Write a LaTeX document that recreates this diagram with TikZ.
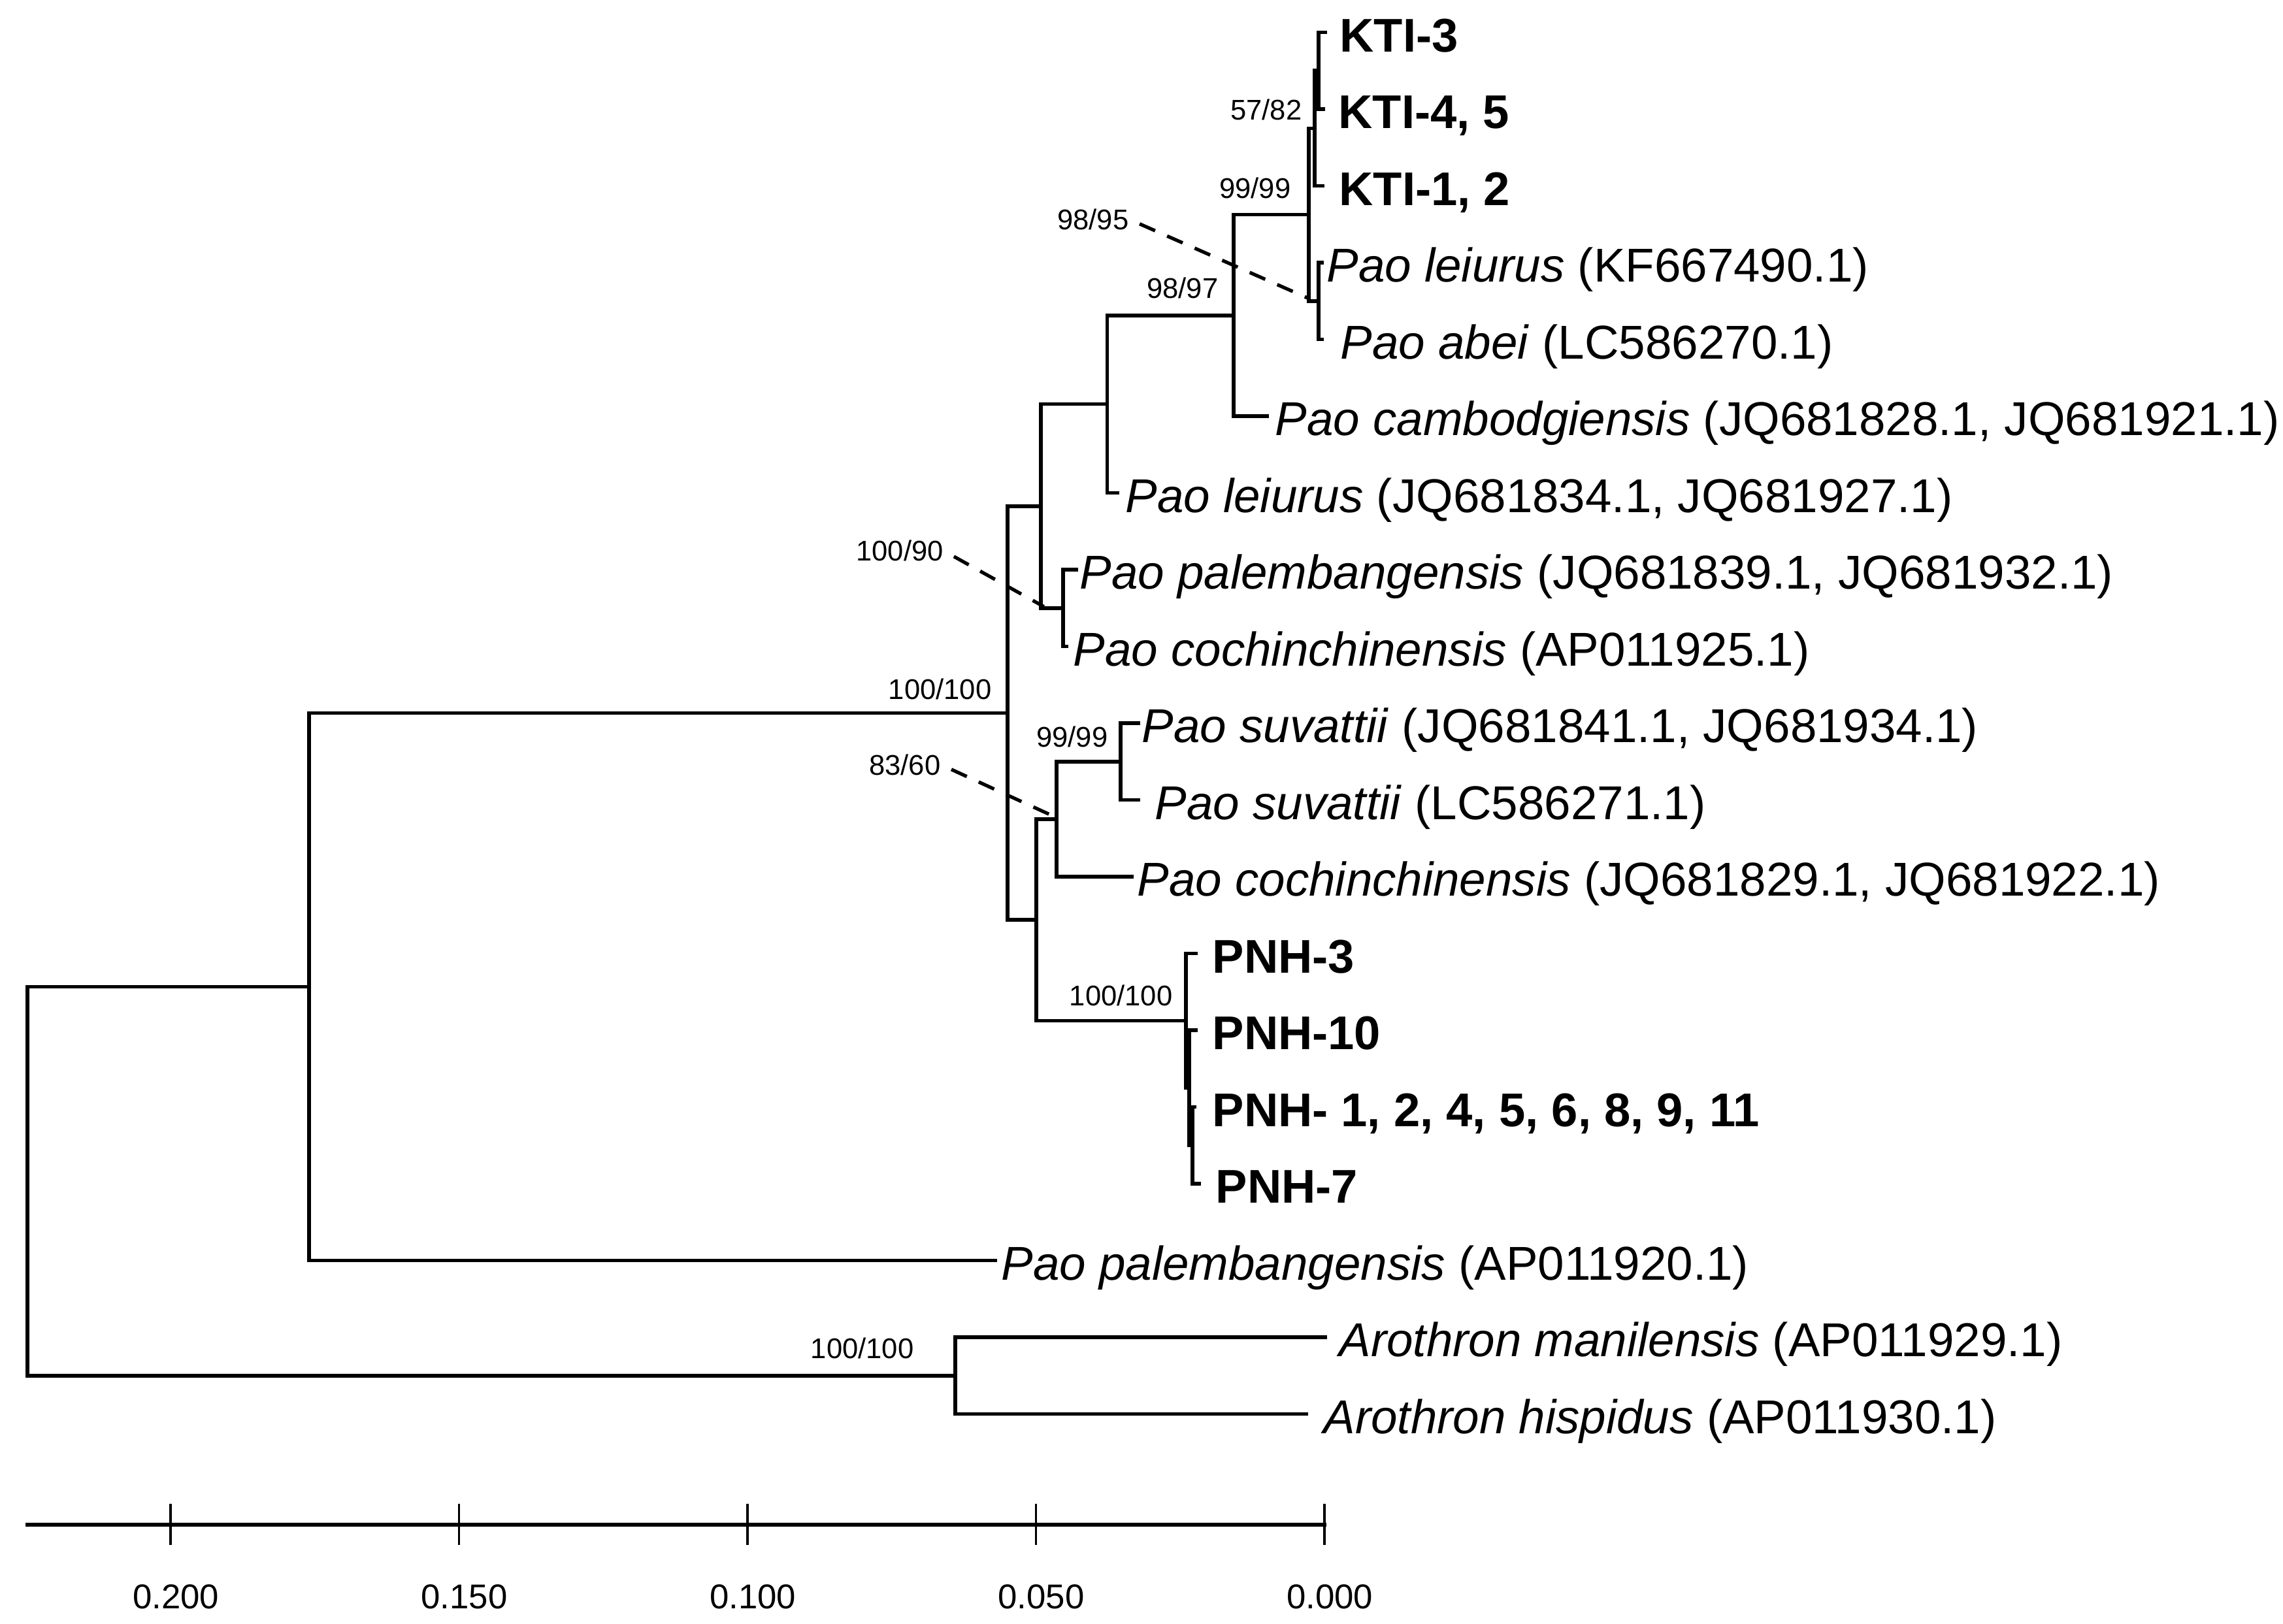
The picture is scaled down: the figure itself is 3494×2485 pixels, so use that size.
\documentclass[tikz,border=0pt]{standalone}
\usepackage{fontspec}
\setmainfont{Liberation Sans}
\usetikzlibrary{calc}
\tikzset{
  branch/.style={draw, line width=1.6pt, line cap=rect},
  tick/.style={draw, line width=1.1pt},
  bootline/.style={draw, line width=1.5pt, dash pattern=on 7.4pt off 5.7pt, shorten <=5pt},
  taxon/.style={anchor=base west, inner sep=0pt, yshift=-8.4pt, font=\fontsize{20.7}{24}\selectfont},
  strain/.style={taxon, font=\fontsize{20.6}{24}\selectfont\bfseries},
  boot/.style={anchor=east, inner sep=0pt, font=\fontsize{12.4}{14}\selectfont},
  scalelbl/.style={inner sep=0pt, font=\fontsize{15}{18}\selectfont}
}

\begin{document}
\begin{tikzpicture}[x=0.1mm, y=-0.1mm]
  \useasboundingbox (0,0) rectangle (3494,2485);

  % inner nodes
  \coordinate (root) at (42,1808.1);
  \coordinate (nA) at (473,1510.5);
  \coordinate (nAro) at (1462,2105.75);
  \coordinate (nB) at (1542,1091.4);
  \coordinate (nC) at (1593,774.7);
  \coordinate (nD) at (1586,1408.1);
  \coordinate (nE) at (1694.5,618.6);
  \coordinate (nF) at (1888,482.8);
  \coordinate (nK) at (2003,328.6);
  \coordinate (nKTI) at (2012,196.4);
  \coordinate (nKTIs) at (2018,108.25);
  \coordinate (nLA) at (2018,460.75);
  \coordinate (nPC) at (1627,930.75);
  \coordinate (nG) at (1617,1253.9);
  \coordinate (nH) at (1715,1165.75);
  \coordinate (nPNH) at (1815,1562.3);
  \coordinate (nS1) at (1820,1665.1);
  \coordinate (nS2) at (1825,1753.25);

  % tips
  \coordinate (t0) at (2028,49.5);
  \coordinate (t1) at (2025,167);
  \coordinate (t2) at (2024,284.5);
  \coordinate (t3) at (2023,402);
  \coordinate (t4) at (2023,519.5);
  \coordinate (t5) at (1939,637);
  \coordinate (t6) at (1710,754.5);
  \coordinate (t7) at (1647,872);
  \coordinate (t8) at (1632,989.5);
  \coordinate (t9) at (1742,1107);
  \coordinate (t10) at (1742,1224.5);
  \coordinate (t11) at (1732,1342);
  \coordinate (t12) at (1830,1459.5);
  \coordinate (t13) at (1830,1577);
  \coordinate (t14) at (1828,1694.5);
  \coordinate (t15) at (1835,1812);
  \coordinate (t16) at (1523,1929.5);
  \coordinate (t17) at (2028,2047);
  \coordinate (t18) at (1999,2164.5);

  \draw[branch] (nA) -| (root) |- (nAro);
  \draw[branch] (nB) -| (nA) |- (t16);
  \draw[branch] (t17) -| (nAro) |- (t18);
  \draw[branch] (nC) -| (nB) |- (nD);
  \draw[branch] (nE) -| (nC) |- (nPC);
  \draw[branch] (nF) -| (nE) |- (t6);
  \draw[branch] (nK) -| (nF) |- (t5);
  \draw[branch] (nKTI) -| (nK) |- (nLA);
  \draw[branch] (nKTIs) -| (nKTI) |- (t2);
  \draw[branch] (t0) -| (nKTIs) |- (t1);
  \draw[branch] (t3) -| (nLA) |- (t4);
  \draw[branch] (t7) -| (nPC) |- (t8);
  \draw[branch] (nG) -| (nD) |- (nPNH);
  \draw[branch] (nH) -| (nG) |- (t11);
  \draw[branch] (t9) -| (nH) |- (t10);
  \draw[branch] (t12) -| (nPNH) |- (nS1);
  \draw[branch] (t13) -| (nS1) |- (nS2);
  \draw[branch] (t14) -| (nS2) |- (t15);

  % taxa
  \node[strain] (l0) at (2050,49.5) {KTI-3};
  \node[strain] (l1) at (2048,167) {KTI-4, 5};
  \node[strain] (l2) at (2049,284.5) {KTI-1, 2};
  \node[taxon] (l3) at (2030,402) {\textit{Pao leiurus} (KF667490.1)};
  \node[taxon] (l4) at (2051,519.5) {\textit{Pao abei} (LC586270.1)};
  \node[taxon] (l5) at (1951,637) {\textit{Pao cambodgiensis} (JQ681828.1, JQ681921.1)};
  \node[taxon] (l6) at (1722,754.5) {\textit{Pao leiurus} (JQ681834.1, JQ681927.1)};
  \node[taxon] (l7) at (1652,872) {\textit{Pao palembangensis} (JQ681839.1, JQ681932.1)};
  \node[taxon] (l8) at (1642,989.5) {\textit{Pao cochinchinensis} (AP011925.1)};
  \node[taxon] (l9) at (1747,1107) {\textit{Pao suvattii} (JQ681841.1, JQ681934.1)};
  \node[taxon] (l10) at (1767,1224.5) {\textit{Pao suvattii} (LC586271.1)};
  \node[taxon] (l11) at (1740,1342) {\textit{Pao cochinchinensis} (JQ681829.1, JQ681922.1)};
  \node[strain] (l12) at (1855,1459.5) {PNH-3};
  \node[strain] (l13) at (1855,1577) {PNH-10};
  \node[strain] (l14) at (1855,1694.5) {PNH- 1, 2, 4, 5, 6, 8, 9, 11};
  \node[strain] (l15) at (1860,1812) {PNH-7};
  \node[taxon] (l16) at (1532,1929.5) {\textit{Pao palembangensis} (AP011920.1)};
  \node[taxon] (l17) at (2049,2047) {\textit{Arothron manilensis} (AP011929.1)};
  \node[taxon] (l18) at (2025,2164.5) {\textit{Arothron hispidus} (AP011930.1)};

  % bootstrap values
  \node[boot] (b5782) at (1993,168) {57/82};
  \node[boot] (b9999k) at (1976,288) {99/99};
  \node[boot] (b9895) at (1728,335.6) {98/95};
  \node[boot] (b9897) at (1865,441) {98/97};
  \node[boot] (b10090) at (1444.5,843.3) {100/90};
  \node[boot] (b100b) at (1518,1054.5) {100/100};
  \node[boot] (b9999h) at (1696,1128.4) {99/99};
  \node[boot] (b8360) at (1440,1170.5) {83/60};
  \node[boot] (b100p) at (1795,1523.7) {100/100};
  \node[boot] (b100a) at (1399,2064) {100/100};

  \coordinate (d9895) at (2002,456.5);
  \coordinate (d10090) at (1597.6,928.6);
  \coordinate (d8360) at (1613.5,1250);
  \draw[bootline] (b9895.east) -- (d9895);
  \draw[bootline] (b10090.east) -- (d10090);
  \draw[bootline] (b8360.east) -- (d8360);

  % scale
  \coordinate (ax0) at (42,2334);
  \coordinate (ax1) at (2027,2334);
  \draw[branch] (ax0) -- (ax1);
  \foreach \x/\v [count=\i] in {261/0.200, 702.5/0.150, 1144/0.100, 1585.5/0.050, 2027/0.000} {
    \draw[tick] (\x,2302) -- (\x,2365);
    \node[scalelbl] (s\i) at (\x+8,2444) {\v};
  }
\end{tikzpicture}
\end{document}
